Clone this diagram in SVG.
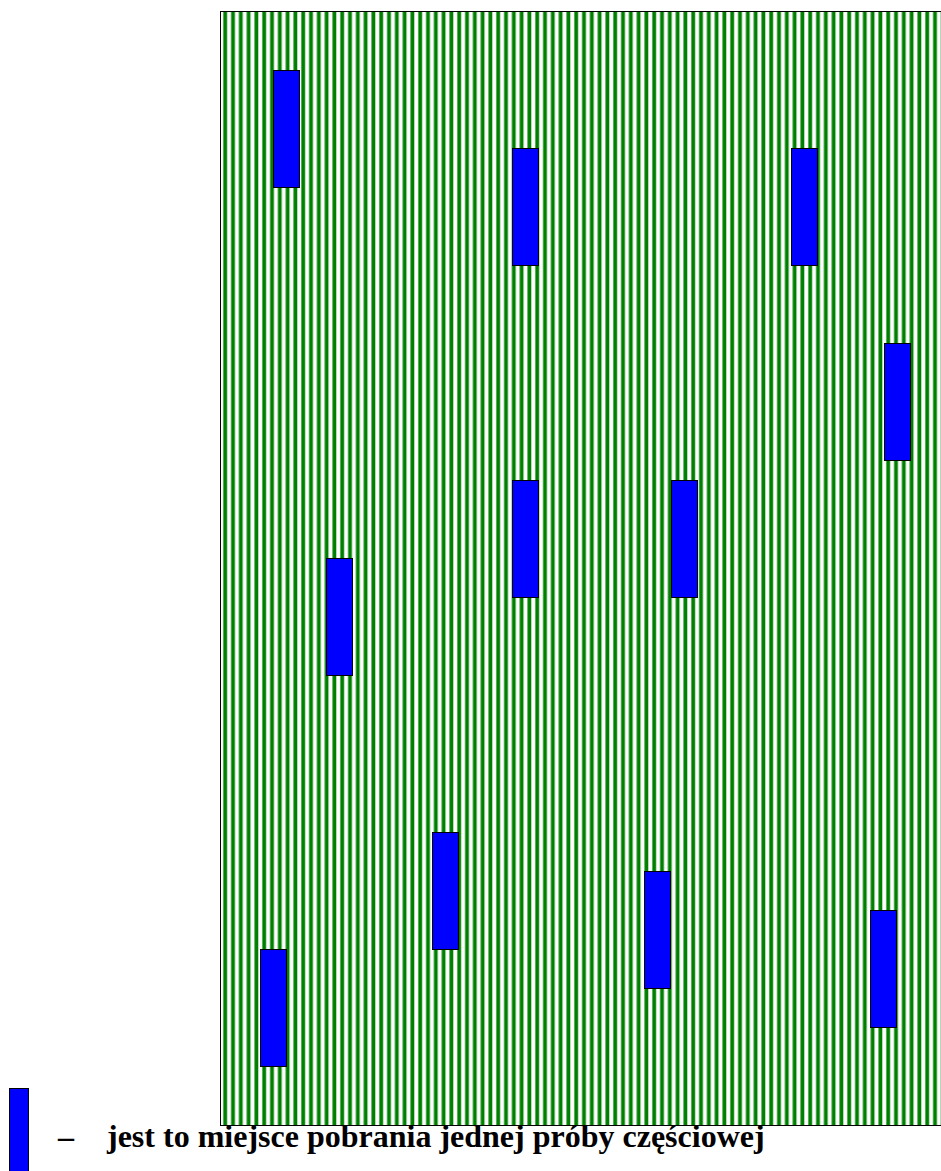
<svg xmlns="http://www.w3.org/2000/svg" width="941" height="1171" viewBox="0 0 941 1171">
<defs>
<pattern id="stripes" x="220" y="0" width="7.8" height="10" patternUnits="userSpaceOnUse">
<rect x="0" y="0" width="7.8" height="10" fill="#ffffff"/>
<rect x="3.3" y="0" width="3.8" height="10" fill="#008000"/>
</pattern>
</defs>
<style>
.spot{fill:#0000ff;stroke:#000000;stroke-width:1}
.lbl{font-family:"Liberation Serif","Times New Roman",serif;font-weight:bold;font-size:32px;fill:#000000}
</style>
<rect width="941" height="1171" fill="#ffffff"/>
<g id="field">
<rect x="220.5" y="11.5" width="730" height="1114" fill="url(#stripes)" stroke="#000000" stroke-width="1"/>
</g>
<g id="samples">
<rect id="s1" class="spot" x="273.5" y="70.5" width="26" height="117"/>
<rect id="s2" class="spot" x="512.5" y="148.5" width="26" height="117"/>
<rect id="s3" class="spot" x="791.5" y="148.5" width="26" height="117"/>
<rect id="s4" class="spot" x="884.5" y="343.5" width="26" height="117"/>
<rect id="s5" class="spot" x="512.5" y="480.5" width="26" height="117"/>
<rect id="s6" class="spot" x="671.5" y="480.5" width="26" height="117"/>
<rect id="s7" class="spot" x="326.5" y="558.5" width="26" height="117"/>
<rect id="s8" class="spot" x="432.5" y="832.5" width="26" height="117"/>
<rect id="s9" class="spot" x="644.5" y="871.5" width="26" height="117"/>
<rect id="s10" class="spot" x="870.5" y="910.5" width="26" height="117"/>
<rect id="s11" class="spot" x="260.5" y="949.5" width="26" height="117"/>
</g>
<g id="legend">
<rect class="spot" x="9.5" y="1088.5" width="19" height="90"/>
<text class="lbl" x="58" y="1147">–</text>
<text class="lbl" x="107" y="1147">jest to miejsce pobrania jednej próby częściowej</text>
</g>
</svg>
